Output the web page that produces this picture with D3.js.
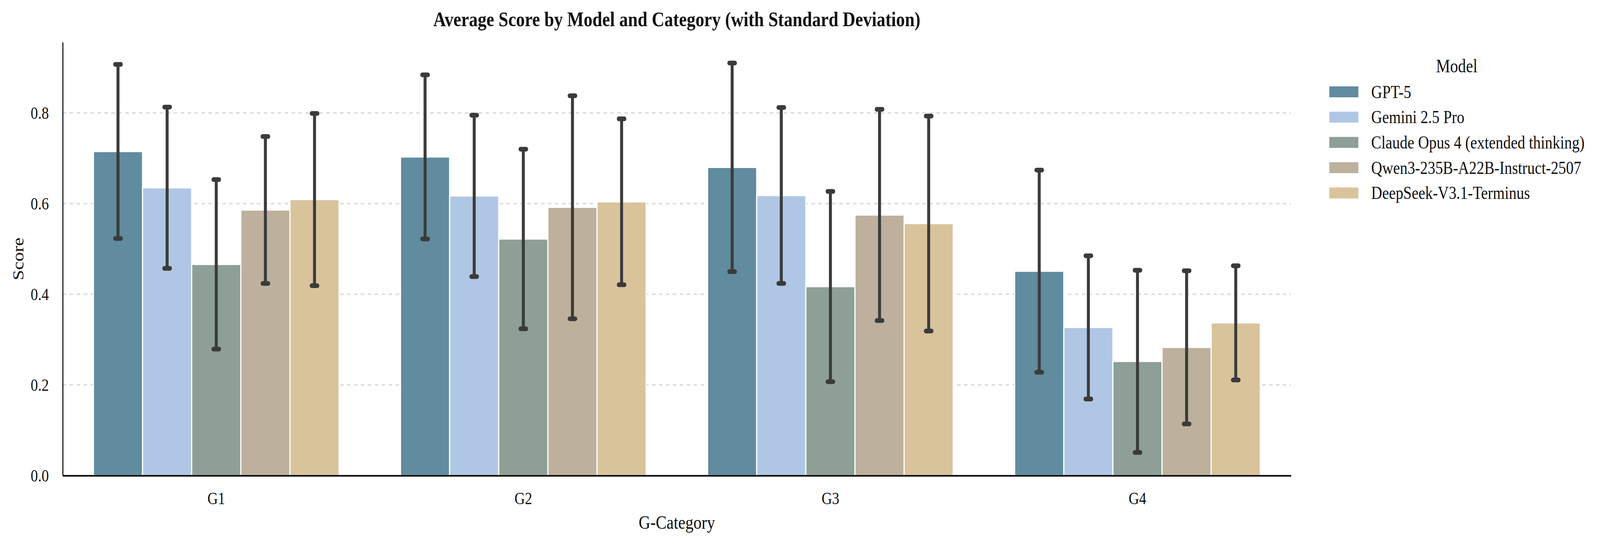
<!DOCTYPE html>
<html>
<head>
<meta charset="utf-8">
<script src="https://cdn.jsdelivr.net/npm/d3@7"></script>
<style>
	html, body { margin: 0; padding: 0; background: #ffffff; overflow: hidden; }
	svg { display: block; }
	svg text { font-family: "Liberation Serif", "Times New Roman", serif; fill: #111111; }
</style>
</head>
<body>
<svg id="chart"></svg>
<script>
// Chart data
const categories = ["G1", "G2", "G3", "G4"];
const models = [
	"GPT-5",
	"Gemini 2.5 Pro",
	"Claude Opus 4 (extended thinking)",
	"Qwen3-235B-A22B-Instruct-2507",
	"DeepSeek-V3.1-Terminus",
];
const modelColors = ["#618b9f", "#afc7e4", "#8d9f96", "#bdb19d", "#d9c39b"];

// mean score per model, one value per category
const gpt5Mean = [0.715, 0.703, 0.680, 0.451];
const geminiMean = [0.635, 0.617, 0.618, 0.327];
const claudeMean = [0.466, 0.522, 0.417, 0.252];
const qwenMean = [0.586, 0.592, 0.575, 0.283];
const deepseekMean = [0.609, 0.604, 0.556, 0.337];

// standard deviation per model, one value per category
const gpt5Sd = [0.192, 0.181, 0.230, 0.223];
const geminiSd = [0.178, 0.178, 0.194, 0.158];
const claudeSd = [0.187, 0.198, 0.210, 0.201];
const qwenSd = [0.162, 0.246, 0.233, 0.169];
const deepseekSd = [0.190, 0.183, 0.237, 0.126];

const yTicks = [0.0, 0.2, 0.4, 0.6, 0.8];
const gridTicks = [0.2, 0.4, 0.6, 0.8];

const means = [gpt5Mean, geminiMean, claudeMean, qwenMean, deepseekMean];
const sds = [gpt5Sd, geminiSd, claudeSd, qwenSd, deepseekSd];

// Graph Dimensions (drawing space, stretched onto the real viewport)
const width = 4847;
const height = 1392;

const margin = {
	top: 108,
	right: 936,
	bottom: 175,
	left: 190,
};

const innerWidth = width - margin.left - margin.right;
const innerHeight = height - margin.top - margin.bottom;

// flatten into rows for the bars
const data = [];
categories.forEach((cat, ci) => {
	models.forEach((model, mi) => {
		data.push({
			category: cat,
			model: model,
			mean: means[mi][ci],
			sd: sds[mi][ci],
			color: modelColors[mi],
		});
	});
});

// the browser viewport is narrower than asked, so fill it edge to edge
const svg = d3
	.select("#chart")
	.attr("width", window.innerWidth)
	.attr("height", window.innerHeight)
	.attr("viewBox", `0 0 ${width} ${height}`)
	.attr("preserveAspectRatio", "none");

const g = svg
	.append("g")
	.attr("transform", `translate(${margin.left}, ${margin.top})`);

// X scales
const xScale = d3.scaleBand().range([0, innerWidth]).domain(categories).padding(0);
const xInner = d3
	.scaleBand()
	.range([xScale.bandwidth() * 0.1, xScale.bandwidth() * 0.9])
	.domain(models);

// Y scale
const yScale = d3.scaleLinear().range([innerHeight, 0]).domain([0, 0.956]);

// grid lines behind bars
g.selectAll(".grid")
	.data(gridTicks)
	.join("line")
	.attr("class", "grid")
	.attr("x1", 0)
	.attr("x2", innerWidth)
	.attr("y1", (d) => yScale(d))
	.attr("y2", (d) => yScale(d))
	.attr("stroke", "#d9d9d9")
	.attr("stroke-width", 3.5)
	.attr("stroke-dasharray", "11,10");

// bars
g.selectAll(".bar")
	.data(data)
	.join("rect")
	.attr("class", "bar")
	.attr("x", (d) => xScale(d.category) + xInner(d.model))
	.attr("y", (d) => yScale(d.mean))
	.attr("width", xInner.bandwidth())
	.attr("height", (d) => yScale(0) - yScale(d.mean))
	.attr("fill", (d) => d.color)
	.attr("stroke", "#ffffff")
	.attr("stroke-width", 3.5);

// error bars
const errColor = "#3b3b3b";
const cx = (d) => xScale(d.category) + xInner(d.model) + xInner.bandwidth() / 2;

g.selectAll(".err")
	.data(data)
	.join("line")
	.attr("class", "err")
	.attr("x1", cx)
	.attr("x2", cx)
	.attr("y1", (d) => yScale(d.mean - d.sd))
	.attr("y2", (d) => yScale(d.mean + d.sd))
	.attr("stroke", errColor)
	.attr("stroke-width", 9);

["top", "bottom"].forEach((side) => {
	g.selectAll(".cap-" + side)
		.data(data)
		.join("line")
		.attr("class", "cap-" + side)
		.attr("x1", (d) => cx(d) - 8.5)
		.attr("x2", (d) => cx(d) + 8.5)
		.attr("y1", (d) => yScale(side === "top" ? d.mean + d.sd : d.mean - d.sd))
		.attr("y2", (d) => yScale(side === "top" ? d.mean + d.sd : d.mean - d.sd))
		.attr("stroke", errColor)
		.attr("stroke-width", 12)
		.attr("stroke-linecap", "round");
});

// Y AXIS
const yAxis = g
	.append("g")
	.call(
		d3.axisLeft(yScale)
			.tickValues(yTicks)
			.tickFormat(d3.format(".1f"))
			.tickSize(0)
			.tickPadding(42)
	);
yAxis.select(".domain").attr("stroke", "#000000").attr("stroke-width", 3);
yAxis.selectAll("text").style("font-size", "44px");

// X AXIS
const xAxis = g
	.append("g")
	.attr("transform", `translate(0, ${innerHeight})`)
	.call(d3.axisBottom(xScale).tickSize(0).tickPadding(42));
xAxis.select(".domain").attr("stroke", "#000000").attr("stroke-width", 4);
xAxis.selectAll("text").style("font-size", "44px");

// axis labels
svg
	.append("text")
	.attr("x", margin.left + innerWidth / 2)
	.attr("y", 1353)
	.attr("text-anchor", "middle")
	.style("font-size", "49px")
	.text("G-Category");

svg
	.append("text")
	.attr("transform", `translate(71, ${margin.top + innerHeight / 2}) rotate(-90)`)
	.attr("text-anchor", "middle")
	.style("font-size", "48px")
	.text("Score");

// title
svg
	.append("text")
	.attr("x", margin.left + innerWidth / 2)
	.attr("y", 67)
	.attr("text-anchor", "middle")
	.style("font-size", "53px")
	.style("font-weight", "bold")
	.text("Average Score by Model and Category (with Standard Deviation)");

// Legend
const legend = svg.append("g").attr("transform", "translate(4027, 221)");

legend
	.append("text")
	.attr("x", 386)
	.attr("y", -36)
	.attr("text-anchor", "middle")
	.style("font-size", "48px")
	.text("Model");

const rowStep = 64.7;

legend
	.selectAll(".swatch")
	.data(models)
	.join("rect")
	.attr("class", "swatch")
	.attr("x", 0)
	.attr("y", (d, i) => i * rowStep)
	.attr("width", 88)
	.attr("height", 28)
	.attr("fill", (d, i) => modelColors[i]);

legend
	.selectAll(".label")
	.data(models)
	.join("text")
	.attr("class", "label")
	.attr("x", 127)
	.attr("y", (d, i) => i * rowStep + 14)
	.attr("dy", "0.34em")
	.style("font-size", "46px")
	.text((d) => d);
</script>
</body>
</html>
